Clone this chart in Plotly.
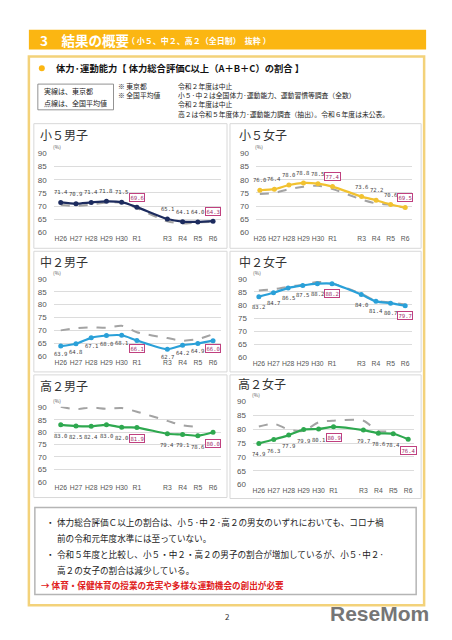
import plotly.graph_objects as go

W, H = 452, 640

# ---------------- data ----------------
categories = ["H26", "H27", "H28", "H29", "H30", "R1", "R2", "R3", "R4", "R5", "R6"]
tick_labels = ["H26", "H27", "H28", "H29", "H30", "R1", "R3", "R4", "R5", "R6"]
y_ticks = [60, 65, 70, 75, 80, 85, 90]

panel_titles = ["小５男子", "小５女子", "中２男子", "中２女子", "高２男子", "高２女子"]

boys5_tokyo = [71.4, 70.9, 71.4, 71.8, 71.5, 69.6, None, 65.1, 64.1, 64.0, 64.3]
boys5_nat = [70.4, 70.1, 70.6, 71.4, 71.3, 69.2, None, 64.2, 63.4, 63.8, 64.0]
girls5_tokyo = [76.0, 76.4, 78.0, 78.8, 78.5, 77.4, None, 73.6, 72.2, 70.6, 69.5]
girls5_nat = [74.6, 75.0, 76.4, 77.3, 77.7, 76.5, None, 72.5, 71.0, 70.5, 69.3]
boys8_tokyo = [63.9, 64.8, 67.1, 68.0, 68.1, 66.1, None, 62.7, 64.2, 64.9, 66.0]
boys8_nat = [70.0, 70.8, 71.2, 71.0, 71.8, 69.3, None, 67.0, 66.0, 66.6, 68.5]
girls8_tokyo = [83.2, 84.7, 86.5, 87.5, 88.2, 88.2, None, 84.0, 81.4, 80.7, 79.7]
girls8_nat = [85.6, 86.0, 87.0, 87.8, 88.8, 88.3, None, 84.3, 81.6, 81.0, 80.2]
boys11_tokyo = [83.0, 82.5, 82.4, 83.0, 82.0, 81.9, None, 79.4, 79.1, 78.6, 80.0]
boys11_nat = [90.3, 89.3, 90.0, 89.5, 89.8, 88.3, None, 84.6, 82.8, 82.2, None]
girls11_tokyo = [74.9, 76.3, 77.9, 79.9, 80.1, 80.9, None, 79.7, 78.6, 78.4, 76.4]
girls11_nat = [81.0, 82.0, 79.9, 79.4, 82.5, 83.1, None, 83.1, 79.3, 79.5, None]

tokyo_series = [boys5_tokyo, girls5_tokyo, boys8_tokyo, girls8_tokyo, boys11_tokyo, girls11_tokyo]
nat_series = [boys5_nat, girls5_nat, boys8_nat, girls8_nat, boys11_nat, girls11_nat]
boxed_cats = ["R1", "R6"]

# ---------------- style / layout ----------------
JP = "Noto Sans CJK JP"
colors = ["#1c2b5e", "#f2c230", "#2aa0d8", "#2aa0d8", "#2ea84f", "#2ea84f"]
label_dir = [1, 1, -1, -1, -1, -1]
label_shift = [10, 10, 8, 10, 11, 11]

geo = [
    dict(gl=52, gr=220, x0=59, x1=212, y90=152, y60=232, tx=36, ty=133, rect=(32, 122, 226, 248)),
    dict(gl=255, gr=412, x0=259, x1=405, y90=152, y60=232, tx=236, ty=133, rect=(229, 122, 421, 248)),
    dict(gl=52, gr=220, x0=59, x1=212, y90=279, y60=357, tx=36, ty=261, rect=(32, 251, 226, 373)),
    dict(gl=253, gr=412, x0=258, x1=405, y90=279, y60=358, tx=236, ty=261, rect=(229, 251, 421, 373)),
    dict(gl=52, gr=220, x0=59, x1=212, y90=409, y60=484, tx=36, ty=387, rect=(32, 376, 226, 500)),
    dict(gl=252, gr=414, x0=258, x1=408, y90=403, y60=487, tx=235, ty=385, rect=(229, 376, 421, 501)),
]


def X(px):
    return px / W


def Y(py):
    return 1 - py / H


fig = go.Figure()
layout = {}
annotations = []
shapes = []

for i in range(6):
    g = geo[i]
    ax = "" if i == 0 else str(i + 1)
    unit = (g["x1"] - g["x0"]) / 10.0
    xr = [(g["gl"] - g["x0"]) / unit, (g["gr"] - g["x0"]) / unit]
    ppu = (g["y60"] - g["y90"]) / 30.0
    pad = 0.3
    ydom = [Y(g["y60"] + pad * ppu), Y(g["y90"] - pad * ppu)]
    layout["xaxis" + ax] = dict(
        domain=[X(g["gl"]), X(g["gr"])], range=xr, type="category",
        categoryorder="array", categoryarray=categories,
        tickvals=tick_labels, ticktext=tick_labels, tickangle=0,
        showgrid=False, showline=False, zeroline=False, ticks="",
        tickfont=dict(size=6.8, color="#555", family="Liberation Sans"),
        anchor="y" + ax, fixedrange=True,
    )
    layout["yaxis" + ax] = dict(
        domain=ydom, range=[60 - pad, 90 + pad], tickvals=y_ticks,
        showgrid=True, gridcolor="#dcdcdc", gridwidth=0.8, zeroline=False,
        showline=False, ticks="", ticklabelstandoff=6,
        tickfont=dict(size=8, color="#555", family="Liberation Sans"),
        anchor="x" + ax, fixedrange=True,
    )
    fig.add_trace(go.Scatter(
        x=categories, y=nat_series[i], mode="lines", connectgaps=True,
        line=dict(color="#a3a3a3", width=2, dash="dash", shape="spline", smoothing=0.7),
        xaxis="x" + ax, yaxis="y" + ax, showlegend=False, hoverinfo="skip", cliponaxis=False,
    ))
    fig.add_trace(go.Scatter(
        x=categories, y=tokyo_series[i], mode="lines+markers", connectgaps=True,
        line=dict(color=colors[i], width=2.2, shape="spline", smoothing=0.7),
        marker=dict(size=5, color=colors[i]),
        xaxis="x" + ax, yaxis="y" + ax, showlegend=False, cliponaxis=False,
    ))
    for c, v in zip(categories, tokyo_series[i]):
        if v is None:
            continue
        boxed = c in boxed_cats
        a = dict(
            x=c, y=v, xref="x" + ax, yref="y" + ax, text=f"{v:.1f}", showarrow=False,
            yshift=label_dir[i] * label_shift[i],
            font=dict(size=5.6, color="#a0306c" if boxed else "#444", family="DejaVu Sans Mono"),
        )
        if boxed:
            a.update(bordercolor="#c0407f", borderwidth=1, borderpad=0.5, bgcolor="white")
        annotations.append(a)
    annotations.append(dict(
        x=X(g["tx"]), y=Y(g["ty"]), xref="paper", yref="paper", xanchor="left", yanchor="middle",
        text=panel_titles[i], showarrow=False, font=dict(size=12, color="#333", family=JP),
    ))
    annotations.append(dict(
        x=X(g["gl"] - 3), y=Y(g["y90"] - 7), xref="paper", yref="paper", xanchor="left",
        yanchor="middle", text="(%)", showarrow=False, font=dict(size=5, color="#555", family=JP),
    ))
    x0, y0, x1, y1 = g["rect"]
    shapes.append(dict(type="rect", xref="paper", yref="paper", x0=X(x0), x1=X(x1), y0=Y(y1), y1=Y(y0),
                       line=dict(color="#d8d8d8", width=1), layer="below"))

shapes.append(dict(type="rect", xref="paper", yref="paper", x0=X(27), x1=X(426), y0=Y(47), y1=Y(27),
                   fillcolor="#fbb612", line=dict(width=0)))
shapes.append(dict(type="rect", xref="paper", yref="paper", x0=X(27), x1=X(424), y0=Y(609), y1=Y(54),
                   line=dict(color="#f3d27a", width=2.5)))
shapes.append(dict(type="rect", xref="paper", yref="paper", x0=X(36), x1=X(112), y0=Y(108), y1=Y(82),
                   line=dict(color="#777", width=0.8)))
shapes.append(dict(type="rect", xref="paper", yref="paper", x0=X(33), x1=X(416), y0=Y(598), y1=Y(510),
                   line=dict(color="#b5b5b5", width=1.5)))
shapes.append(dict(type="circle", xref="paper", yref="paper", x0=X(37), x1=X(43), y0=Y(69), y1=Y(63),
                   fillcolor="#fbb612", line=dict(width=0)))


def txt(px, py, s, size, color="#222", bold=False, anchor="left", family=JP):
    if bold:
        s = "<b>" + s + "</b>"
    annotations.append(dict(x=X(px), y=Y(py), xref="paper", yref="paper", xanchor=anchor, yanchor="middle",
                            text=s, showarrow=False, font=dict(size=size, color=color, family=family)))


txt(36, 37, "3　結果の概要", 13.5, "white", True)
txt(124, 38, "（ 小５、中２、高２（全日制）　抜粋 ）", 8, "white", True)
txt(52, 66, "体力·運動能力【 体力総合評価C以上（A＋B＋C）の割合 】", 9.3, "#111", True)
txt(40, 89, "実線は、東京都", 7)
txt(40, 101, "点線は、全国平均値", 7)
note_y = [83.5, 93, 102.5, 112]
txt(115, note_y[0], "※ 東京都", 6.8)
txt(115, note_y[1], "※ 全国平均値", 6.8)
txt(175, note_y[0], "令和２年度は中止", 6.8)
txt(175, note_y[1], "小５·中２は全国体力·運動能力、運動習慣等調査（全数）", 6.8)
txt(175, note_y[2], "令和２年度は中止", 6.8)
txt(175, note_y[3], "高２は令和５年度体力·運動能力調査（抽出）。令和６年度は未公表。", 6.8)

txt(42, 525, "・", 8.6)
txt(53, 525, "体力総合評価Ｃ以上の割合は、小５·中２·高２の男女のいずれにおいても、コロナ禍", 8.6)
txt(53, 541, "前の令和元年度水準には至っていない。", 8.6)
txt(42, 557, "・", 8.6)
txt(53, 557, "令和５年度と比較し、小５・中２・高２の男子の割合が増加しているが、小５·中２·", 8.6)
txt(53, 573, "高２の女子の割合は減少している。", 8.6)
txt(37, 588, "→ 体育・保健体育の授業の充実や多様な運動機会の創出が必要", 8.6, "#e02020", True)
txt(226, 620, "2", 8, "#333", anchor="center")
txt(431, 617, "ReseMom", 21, "#767676", True, anchor="right", family="Liberation Sans")

layout.update(
    width=W, height=H, margin=dict(l=0, r=0, t=0, b=0),
    paper_bgcolor="white", plot_bgcolor="rgba(0,0,0,0)",
    annotations=annotations, shapes=shapes, showlegend=False,
)
fig.update_layout(**layout)
fig.write_html("out.html", config={"displayModeBar": False},
               post_script="document.body.style.margin='0';")
